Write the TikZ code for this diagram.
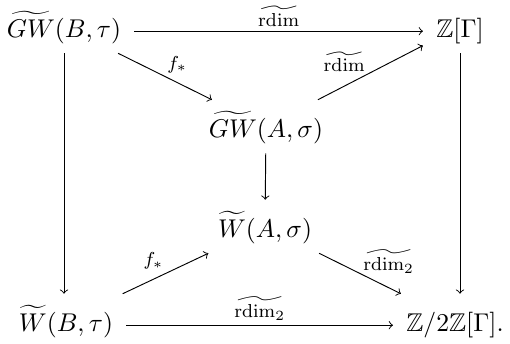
\documentclass[tikz,border=0pt,11pt]{standalone}
\usepackage{amsmath,amssymb}
\begin{document}
\begin{tikzpicture}[x=0.015cm, y=-0.015cm,
    obj/.style={inner xsep=5.5pt, inner ysep=2.5pt, text height=2.8ex, text depth=0.9ex},
    map/.style={->, >=to},
    lbl/.style={inner sep=2pt}]
    \useasboundingbox (0,0) rectangle (510,343);

    % Objects at fixed coordinates
    \node[obj] (gwb) at (64,26.5)   {$\widetilde{GW}(B,\tau)$};
    \node[obj] (zg)  at (460,26.5)  {$\mathbb{Z}[\Gamma]$};
    \node[obj] (gwa) at (266,126.5) {$\widetilde{GW}(A,\sigma)$};
    \node[obj] (wa)  at (265,226.5) {$\widetilde{W}(A,\sigma)$};
    \node[obj] (wb)  at (66,320.5)  {$\widetilde{W}(B,\tau)$};
    \node[obj] (z2)  at (455,320.5) {$\mathbb{Z}/2\mathbb{Z}[\Gamma].$};

    % Outer square
    \draw[map] ([yshift=-2pt]gwb.east) -- node[lbl, above] {$\scriptstyle\widetilde{\mathrm{rdim}}$} ([yshift=-2pt]zg.west);
    \draw[map] ([yshift=-2pt]wb.east) -- node[lbl, above] {$\scriptstyle\widetilde{\mathrm{rdim}_2}$} ([yshift=-2pt]z2.west);
    \draw[map] (gwb) -- (gwb |- wb.north);
    \draw[map] (zg) -- (zg |- z2.north);

    % Inner maps
    \draw[map] (gwb) -- node[lbl, pos=0.63, above=2pt] {$\scriptstyle f_*$} (gwa);
    \draw[map] (gwa) -- node[lbl, pos=0.25, above=4pt] {$\scriptstyle\widetilde{\mathrm{rdim}}$} (zg);
    \draw[map] (gwa) -- (wa);
    \draw[map] (wb) -- node[lbl, pos=0.36, above=2pt] {$\scriptstyle f_*$} (wa);
    \draw[map] (wa) -- node[lbl, pos=0.85, above=4pt] {$\scriptstyle\widetilde{\mathrm{rdim}_2}$} (z2);
\end{tikzpicture}
\end{document}
